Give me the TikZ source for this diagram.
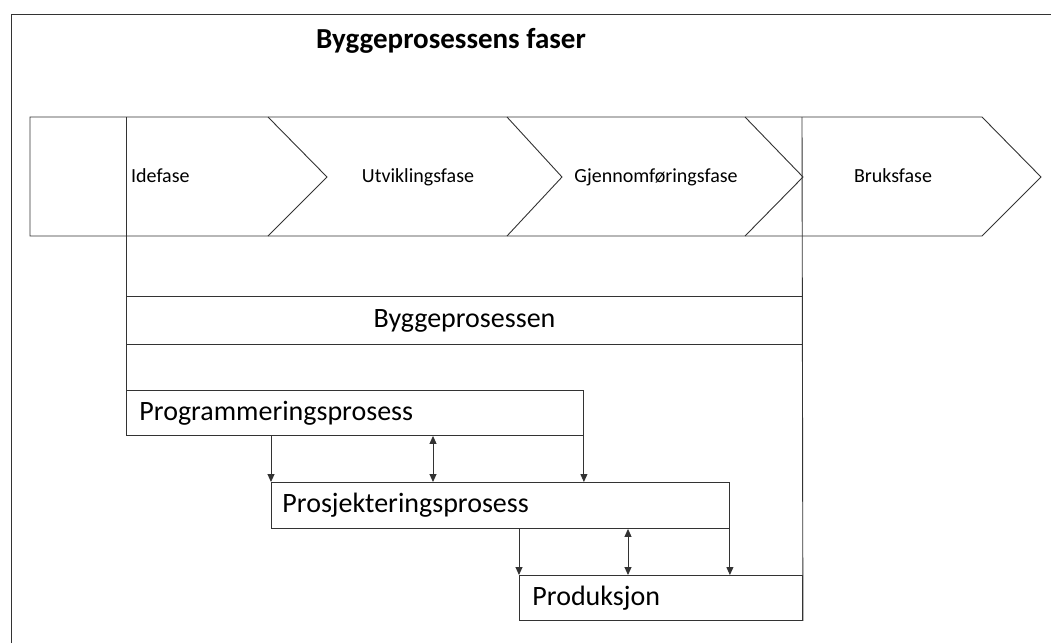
\documentclass[tikz,border=0pt]{standalone}
\usepackage{fontspec}
\setmainfont{Carlito}
\usetikzlibrary{arrows.meta,calc}
\begin{document}
\begin{tikzpicture}[x=1pt,y=-1pt,
  ln/.style={draw=black!80,line width=0.9pt},
  phase/.style={font=\fontsize{20}{24}\selectfont,inner sep=0pt,anchor=base},
  pbox/.style={ln,rectangle,inner sep=0pt,anchor=north west,font=\fontsize{28}{32}\selectfont,align=left},
  tip/.tip={Triangle[length=8pt,width=7pt]},
  arr/.style={ln,-tip},
  darr/.style={ln,tip-tip}]
\useasboundingbox (0,0) rectangle (1051,643);
% frame
\coordinate (f0) at (11,643);
\coordinate (f1) at (11,14);
\coordinate (f2) at (1051,14);
\draw[ln] (f0) -- (f1) -- (f2);
% title
\node[font=\fontsize{29}{33}\selectfont\bfseries,anchor=base west,inner sep=0pt] (title) at (316,48) {Byggeprosessens faser};
% phase strip
\coordinate (s1) at (30,117);
\coordinate (s2) at (982,117);
\coordinate (s3) at (1041,177);
\coordinate (s4) at (982,236);
\coordinate (s5) at (30,236);
\draw[ln] (s1) -- (s2) -- (s3) -- (s4) -- (s5) -- cycle;
\coordinate (c1a) at (268,117); \coordinate (c1b) at (327,177); \coordinate (c1c) at (268,236);
\coordinate (c2a) at (507,117); \coordinate (c2b) at (562,177); \coordinate (c2c) at (507,236);
\coordinate (c3a) at (745,117); \coordinate (c3b) at (803,177); \coordinate (c3c) at (745,236);
\draw[ln] (c1a) -- (c1b) -- (c1c);
\draw[ln] (c2a) -- (c2b) -- (c2c);
\draw[ln] (c3a) -- (c3b) -- (c3c);
\node[phase,anchor=base west] (ide) at (131,182) {Idefase};
\node[phase] (utv) at (418,182) {Utviklingsfase};
\node[phase] (gjen) at (656,182) {Gjennomføringsfase};
\node[phase] (bruk) at (893,182) {Bruksfase};
% boxes
\node[pbox,minimum width=676pt,minimum height=48pt,align=center] (bygg) at (126,296) {Byggeprosessen};
\node[pbox,minimum width=457pt,minimum height=45pt,text width=447pt] (prog) at (126,390) {\hspace*{8pt}Programmeringsprosess};
\node[pbox,minimum width=458pt,minimum height=46pt,text width=448pt] (prosj) at (271,482) {\hspace*{6pt}Prosjekteringsprosess};
\node[pbox,minimum width=283pt,minimum height=45pt,text width=273pt] (prod) at (519,575) {\hspace*{8pt}Produksjon};
% vertical lines
\coordinate (vl1) at (126,117);
\coordinate (vr1) at (802,117);
\draw[ln] (vl1) -- (prog.south west);
\draw[ln] (vr1) -- (prod.south east);
% arrows
\draw[arr] (prog.south -| prosj.north west) -- (prosj.north west);
\draw[darr] ([xshift=307pt]prog.south west) -- ([xshift=307pt]prog.south west |- prosj.north);
\draw[arr] (prog.south east) -- (prog.south east |- prosj.north);
\draw[arr] (prosj.south -| prod.north west) -- (prod.north west);
\draw[darr] ([xshift=109pt]prod.north west |- prosj.south) -- ([xshift=109pt]prod.north west);
\draw[arr] (prosj.south east) -- (prosj.south east |- prod.north);
\end{tikzpicture}
\end{document}
